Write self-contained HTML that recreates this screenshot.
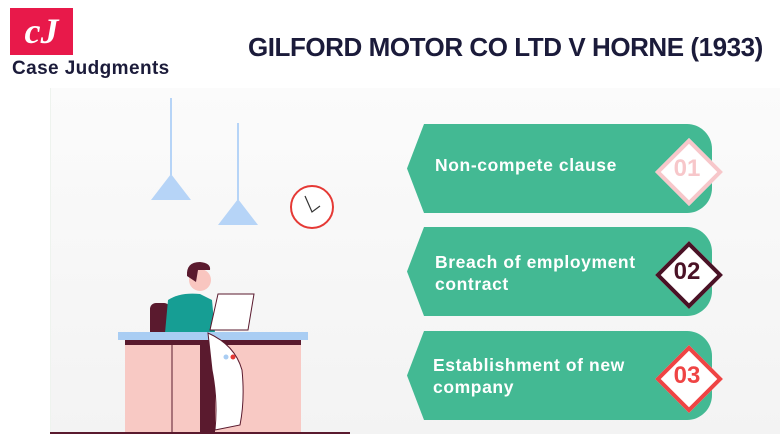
<!DOCTYPE html>
<html><head><style>
body{margin:0;width:780px;height:434px;overflow:hidden;background:#fff;font-family:"Liberation Sans",sans-serif;position:relative}
.bg{position:absolute;left:50px;top:88px;width:730px;height:346px;background:linear-gradient(#fbfbfb,#f3f3f3);border-left:1px solid #eef3ee}
.logo{position:absolute;left:10px;top:8px;width:63px;height:47px;background:#e8194a;color:#fff;font:italic bold 36px "Liberation Serif",serif;text-align:center;line-height:46px}
.cj{position:absolute;left:12px;top:58px;font-weight:bold;font-size:19px;letter-spacing:0.4px;color:#1b1b3a}
.title{position:absolute;left:248px;top:32px;font-weight:bold;font-size:26px;color:#1b1b3a;letter-spacing:-0.45px;white-space:nowrap}
.tab{position:absolute;left:407px;width:305px;height:89px}
.tab span{position:absolute;left:28px;color:#fff;font-weight:bold;font-size:17.5px;letter-spacing:0.6px;line-height:22px}
.d{position:absolute;left:258px;top:24px;width:40px;height:40px;transform:rotate(45deg);background:#fff;border:4px solid}
.n{position:absolute;left:252px;top:30px;width:56px;text-align:center;font-weight:bold;font-size:24px;line-height:30px}
</style></head><body>
<div class="bg"></div>
<div class="logo">cJ</div>
<div class="cj">Case Judgments</div>
<div class="title">GILFORD MOTOR CO LTD V HORNE (1933)</div>
<svg style="position:absolute;left:0;top:0" width="400" height="434">
<line x1="171" y1="98" x2="171" y2="175" stroke="#b6d4f7" stroke-width="2"/>
<polygon points="151,200 171,174 191,200" fill="#b6d4f7"/>
<line x1="238" y1="123" x2="238" y2="200" stroke="#b6d4f7" stroke-width="2"/>
<polygon points="218,225 238,199 258,225" fill="#b6d4f7"/>
<circle cx="312" cy="207" r="21" fill="#fff" stroke="#e53935" stroke-width="2"/>
<polyline points="305,196 312,212 320,206" fill="none" stroke="#333" stroke-width="1.2"/>
<rect x="150" y="303" width="20" height="35" rx="6" fill="#5a1a2e"/>
<path d="M168,300 Q180,292 200,294 L212,300 L215,333 L165,333 Z" fill="#169e94"/>
<circle cx="200" cy="280" r="11" fill="#f9c6c0"/>
<path d="M187,276 Q186,262 200,262 Q211,263 210,270 L198,270 L196,282 Z" fill="#5a1a2e"/>
<polygon points="218,294 254,294 248,330 210,330" fill="#fff" stroke="#5a1a2e" stroke-width="1"/>
<rect x="118" y="332" width="190" height="8" fill="#a9cdf3"/>
<rect x="125" y="340" width="176" height="5" fill="#5a1a2e"/>
<rect x="125" y="345" width="176" height="89" fill="#f8c9c4"/>
<line x1="172" y1="345" x2="172" y2="434" stroke="#5a1a2e"/>
<rect x="200" y="345" width="15" height="89" fill="#5a1a2e"/>
<path d="M208,333 Q235,345 242,370 Q245,400 240,425 L215,430 Q218,400 212,370 Z" fill="#fff" stroke="#5a1a2e" stroke-width="1"/>
<circle cx="226" cy="357" r="2.5" fill="#a9cdf3"/><circle cx="233" cy="357" r="2.5" fill="#e53935"/>
<rect x="50" y="432" width="300" height="2" fill="#5a1a2e"/>
</svg>
<div class="tab" style="top:124px"><svg width="305" height="89" style="position:absolute"><path d="M17,0 H280 A25,25 0 0 1 305,25 V64 A25,25 0 0 1 280,89 H17 L0,44.5 Z" fill="#43b993"/></svg><span style="top:30px">Non-compete clause</span><div class="d" style="border-color:#f7c7ca"></div><div class="n" style="color:#f7c7ca">01</div></div>
<div class="tab" style="top:227px"><svg width="305" height="89" style="position:absolute"><path d="M17,0 H280 A25,25 0 0 1 305,25 V64 A25,25 0 0 1 280,89 H17 L0,44.5 Z" fill="#43b993"/></svg><span style="top:24px">Breach of employment<br>contract</span><div class="d" style="border-color:#4a1226"></div><div class="n" style="color:#4a1226">02</div></div>
<div class="tab" style="top:331px"><svg width="305" height="89" style="position:absolute"><path d="M17,0 H280 A25,25 0 0 1 305,25 V64 A25,25 0 0 1 280,89 H17 L0,44.5 Z" fill="#43b993"/></svg><span style="top:23px;left:26px">Establishment of new<br>company</span><div class="d" style="border-color:#ef4444"></div><div class="n" style="color:#ef4444">03</div></div>
</body></html>
